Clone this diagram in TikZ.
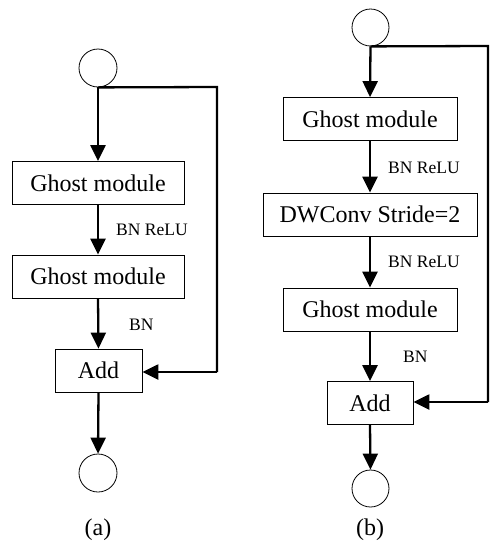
\documentclass[tikz,border=0pt]{standalone}
\usepackage{fontspec}
\setmainfont{Liberation Serif}
\usetikzlibrary{arrows.meta}
\begin{document}
\begin{tikzpicture}[x=1pt,y=-1pt,
  blk/.style={draw,line width=0.8pt,minimum height=43pt,inner sep=0pt,font=\fontsize{24}{28}\selectfont},
  circ/.style={draw,line width=0.8pt,circle,inner sep=0pt},
  lab/.style={anchor=west,inner sep=0pt,font=\fontsize{17.5}{20}\selectfont},
  captxt/.style={inner sep=0pt,font=\fontsize{24}{28}\selectfont},
  arr/.style={line width=2.3pt,-{Triangle[length=16pt,width=15pt]}},
  ln/.style={line width=2.3pt}]
\useasboundingbox (0,0) rectangle (500,550);
% (a)
\node[circ,minimum size=38pt] (a0) at (98,68) {};
\node[blk,minimum width=172pt] (a1) at (98,183) {Ghost module};
\node[blk,minimum width=172pt] (a2) at (98,276.5) {Ghost module};
\node[blk,minimum width=87pt] (a3) at (98.5,370.5) {Add};
\node[circ,minimum size=38pt] (a4) at (98,473) {};
\coordinate (ac1) at (217,87);
\coordinate (ac2) at (217,372);
\draw[arr] (a0.south) -- (a1.north);
\draw[arr] (a1.south) -- (a2.north);
\draw[arr] (a2.south) -- (a3.north);
\draw[arr] (a3.south) -- (a4.north);
\draw[ln] (a0.south) -- (ac1) -- (ac2);
\draw[arr] (ac2) -- (a3.east |- ac2);
\node[lab] (al1) at (116,230) {BN ReLU};
\node[lab] (al2) at (129,325) {BN};
\node[captxt] (acap) at (98,530) {(a)};
% (b)
\node[circ,minimum size=37pt] (b0) at (370.5,27.5) {};
\node[blk,minimum width=174pt] (b1) at (370,119) {Ghost module};
\node[blk,minimum width=214pt] (b2) at (370,214.5) {DWConv Stride=2};
\node[blk,minimum width=174pt] (b3) at (370,309.5) {Ghost module};
\node[blk,minimum width=86pt] (b4) at (370,403) {Add};
\node[circ,minimum size=37pt] (b5) at (370.5,488.5) {};
\coordinate (bc1) at (488,46);
\coordinate (bc2) at (488,402);
\draw[arr] (b0.south) -- (b1.north);
\draw[arr] (b1.south) -- (b2.north);
\draw[arr] (b2.south) -- (b3.north);
\draw[arr] (b3.south) -- (b4.north);
\draw[arr] (b4.south) -- (b5.north);
\draw[ln] (b0.south) -- (bc1) -- (bc2);
\draw[arr] (bc2) -- (b4.east |- bc2);
\node[lab] (bl1) at (388,168) {BN ReLU};
\node[lab] (bl2) at (388,262) {BN ReLU};
\node[lab] (bl3) at (403,357) {BN};
\node[captxt] (bcap) at (370,530) {(b)};
\end{tikzpicture}
\end{document}
